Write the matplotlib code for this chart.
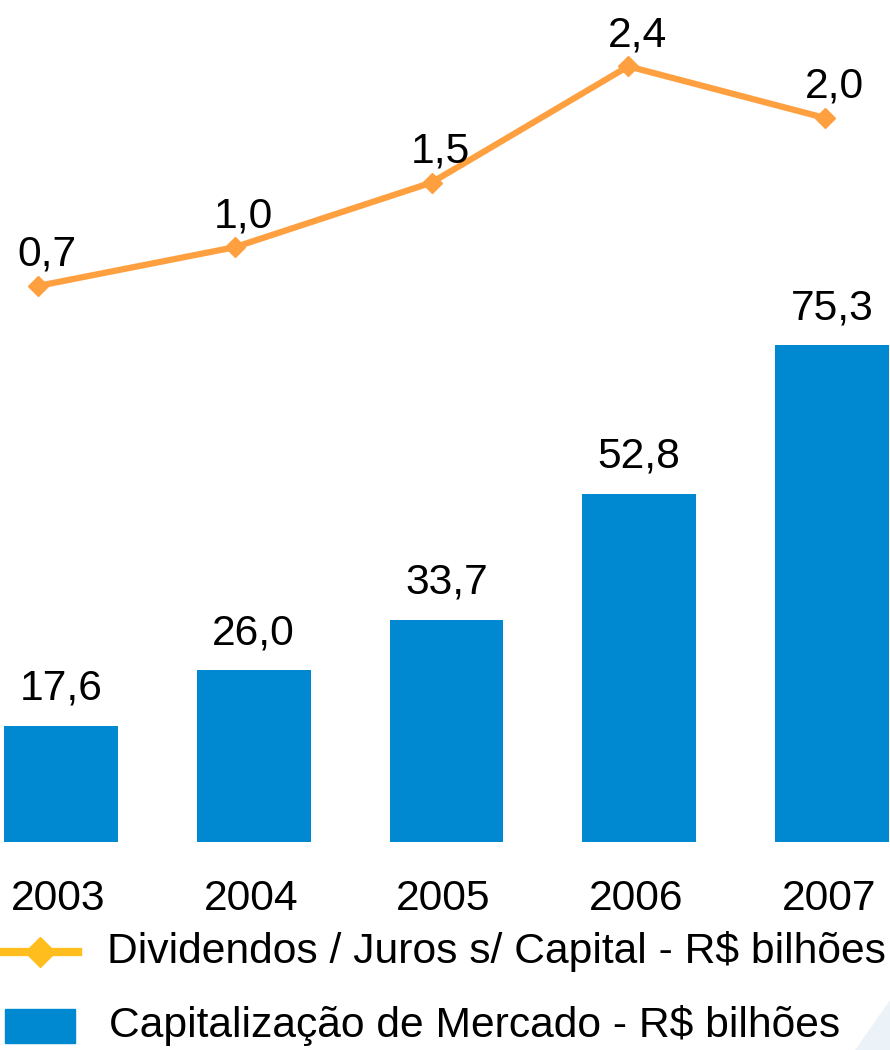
import numpy as np
import matplotlib
matplotlib.use("Agg")
import matplotlib.pyplot as plt
from matplotlib.lines import Line2D
from matplotlib.patches import Rectangle, Polygon

plt.rcParams['font.family'] = ['Liberation Sans', 'DejaVu Sans']

years = ['2003', '2004', '2005', '2006', '2007']
market_cap = [17.6, 26.0, 33.7, 52.8, 75.3]   # Capitalização de Mercado - R$ bilhões
dividends = [0.7, 1.0, 1.5, 2.4, 2.0]         # Dividendos / Juros s/ Capital - R$ bilhões

BLUE = '#0088D1'
ORANGE = '#FFA040'
GOLD = '#FFBE1E'
FS = 30.7

W, H = 890, 1050
fig = plt.figure(figsize=(W / 100, H / 100), dpi=100)

def fmt(v):
    return f'{v:.1f}'.replace('.', ',')

# bars
base_px = 842
ax = fig.add_axes([0, (H - base_px) / H, 1, base_px / H])
x = np.arange(len(years))
ax.bar(x, market_cap, width=0.59, color=BLUE)
ax.set_xlim(-61 / 192.75, (W - 61) / 192.75)
ax.set_ylim(0, base_px / 6.6)
ax.axis('off')
for i, v in enumerate(market_cap):
    ax.annotate(fmt(v), (i, v), xytext=(0, 26), textcoords='offset pixels',
                ha='center', va='baseline', fontsize=FS, color='black',
                annotation_clip=False)
    ax.annotate(years[i], (i, 0), xytext=(-3, -68), textcoords='offset pixels',
                ha='center', va='baseline', fontsize=FS, color='black',
                annotation_clip=False)

# dividends line on its own axes
ax2 = fig.add_axes([0, 0, 1, 1], facecolor='none')
ax2.plot(x, dividends, color=ORANGE, lw=4.5, marker='D', ms=10,
         markerfacecolor=ORANGE, markeredgecolor=ORANGE, solid_capstyle='butt')
ax2.set_xlim(-38 / 196.75, (W - 38) / 196.75)
ax2.set_ylim((376.4 - H) / 129.2, 376.4 / 129.2)
ax2.axis('off')
for i, v in enumerate(dividends):
    ax2.annotate(fmt(v), (i, v), xytext=(9, 20), textcoords='offset pixels',
                 ha='center', va='baseline', fontsize=FS, color='black',
                 annotation_clip=False)

# legend
y1 = 1 - 952 / H
fig.add_artist(Line2D([0, 78 / W], [y1, y1], color=GOLD, lw=6,
                      transform=fig.transFigure))
fig.add_artist(Line2D([40 / W], [y1], marker='D', ms=15, color=GOLD,
                      transform=fig.transFigure))
fig.text(107 / W, y1, 'Dividendos / Juros s/ Capital - R$ bilhões',
         fontsize=FS, va='center', ha='left')
y2 = 1 - 1026 / H
fig.add_artist(Rectangle((5 / W, 1 - 1043 / H), 70 / W, 34 / H,
                         color=BLUE, transform=fig.transFigure))
fig.text(109 / W, y2, 'Capitalização de Mercado - R$ bilhões',
         fontsize=FS, va='center', ha='left')

# faint background streak in the lower right corner
fig.add_artist(Polygon([(855 / W, 0), (1, 0), (1, 1 - 1000 / H)],
                       closed=True, color='#C8DDF0', alpha=0.35, lw=0,
                       transform=fig.transFigure, zorder=0))

fig.savefig('out.png', dpi=100)
